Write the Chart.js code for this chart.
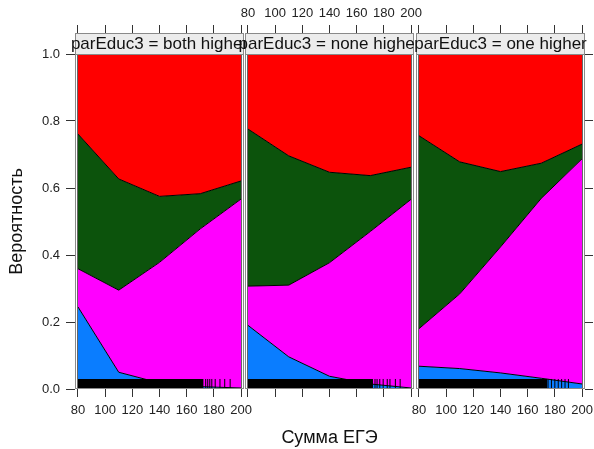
<!DOCTYPE html>
<html>
<head>
<meta charset="utf-8">
<script src="https://cdn.jsdelivr.net/npm/chart.js@4.4.1/dist/chart.umd.min.js"></script>
<style>
body { margin: 0; background: #fff; }
#wrap { position: relative; width: 594px; height: 449px; }
#wrap canvas { position: absolute; left: 0; top: 0; }
</style>
</head>
<body>
<div id="wrap">
<canvas id="p1" width="594" height="449"></canvas>
<canvas id="p2" width="594" height="449"></canvas>
<canvas id="p3" width="594" height="449"></canvas>
</div>
<script>
// x positions of the fitted curve (sum of exam scores)
const scores = [80, 110, 140, 170, 200];
const xTicks = [80, 100, 120, 140, 160, 180, 200];
const yTicks = [0, 0.2, 0.4, 0.6, 0.8, 1.0];
const stripLabels = ['parEduc3 = both higher', 'parEduc3 = none higher', 'parEduc3 = one higher'];
const levelNames = ['level 1', 'level 2', 'level 3', 'level 4'];

// probabilities per outcome level, bottom to top
const lvl1Both = [0.245, 0.050, 0.018, 0.007, 0.003];
const lvl2Both = [0.114, 0.245, 0.360, 0.471, 0.564];
const lvl3Both = [0.402, 0.332, 0.197, 0.105, 0.054];
const lvl4Both = [0.239, 0.373, 0.425, 0.417, 0.379];

const lvl1None = [0.190, 0.096, 0.038, 0.015, 0.003];
const lvl2None = [0.117, 0.214, 0.339, 0.455, 0.563];
const lvl3None = [0.469, 0.386, 0.270, 0.167, 0.096];
const lvl4None = [0.224, 0.304, 0.353, 0.363, 0.338];

const lvl1One = [0.068, 0.061, 0.048, 0.032, 0.015];
const lvl2One = [0.112, 0.223, 0.376, 0.537, 0.672];
const lvl3One = [0.576, 0.394, 0.225, 0.105, 0.044];
const lvl4One = [0.244, 0.322, 0.351, 0.326, 0.269];

// rug: scores are dense from 80 up to rugDenseEnd, then single ticks
const rugDenseEnd = [172.5, 172, 174.5];
const rugBoth = [174, 175.5, 177, 178.5, 181, 184.5, 188, 192];
const rugNone = [173.5, 175, 177, 179.5, 182.5, 184.5, 188.5, 192];
const rugOne = [175, 177.5, 180, 182.5, 185, 187.5, 190];

const layerColors = ['#0a7dff', '#ff00ff', '#0c530c', '#ff0000'];
const frameL = [75, 245, 416];
const frameR = [244, 414, 585];
const xMin = 77.8, xMax = 202.2;
const rugH = 0.03;

Chart.defaults.font.family = '"Liberation Sans", Arial, sans-serif';

// lattice-style strip above each panel + grey panel frame
const stripPlugin = {
	id: 'strip',
	afterDraw(chart, args, opts) {
		const ctx = chart.ctx, a = chart.chartArea;
		ctx.save();
		ctx.fillStyle = '#ececec';
		ctx.fillRect(a.left, 33, a.right - a.left, a.top - 33);
		ctx.strokeStyle = '#8a8a8a';
		ctx.lineWidth = 1;
		ctx.strokeRect(a.left + 0.5, 33.5, a.right - a.left - 1, a.top - 33);
		ctx.strokeRect(a.left + 0.5, a.top + 0.5, a.right - a.left - 1, a.bottom - a.top - 1);
		ctx.fillStyle = '#111';
		ctx.font = '17px "Liberation Sans", Arial, sans-serif';
		ctx.textAlign = 'center';
		ctx.textBaseline = 'middle';
		ctx.fillText(opts.text, (a.left + a.right) / 2, (33 + a.top) / 2 + 1);
		ctx.restore();
	}
};

function makePanel(id, k, layers, rug) {
	var first = k === 0, mid = k === 1, last = k === 2;
	var sets = layers.map(function(vals, j) {
		return {
			label: levelNames[j],
			data: scores.map(function(s, i) { return {x: s, y: vals[i]}; }),
			backgroundColor: layerColors[j],
			borderColor: '#000',
			borderWidth: 1,
			fill: j === 0 ? 'origin' : '-1',
			pointRadius: 0,
			tension: 0,
			yAxisID: 'y'
		};
	});
	sets.push({
		label: 'rug dense',
		data: [{x: scores[0], y: rugH}, {x: rugDenseEnd[k], y: rugH}],
		backgroundColor: '#000',
		borderWidth: 0,
		fill: 'origin',
		pointRadius: 0,
		yAxisID: 'yRug',
		order: -1
	});
	sets.push({
		label: 'rug',
		data: rug.map(function(v) { return {x: v, y: rugH / 2}; }),
		showLine: false,
		pointStyle: 'line',
		rotation: 90,
		pointRadius: 5,
		pointBorderColor: '#000',
		pointBorderWidth: 1,
		yAxisID: 'yRug',
		order: -1
	});

	var setXTicks = function(s) { s.ticks = xTicks.map(function(v) { return {value: v}; }); };
	var setYTicks = function(s) { s.ticks = yTicks.map(function(v) { return {value: v}; }); };
	// fixed axis sizes (only for shown axes)
	var fixW = function(w) {
		return function(s) { if (s.options.display) { s.width = w; } s.paddingTop = 0; s.paddingBottom = 0; };
	};
	var fixH = function(h) {
		return function(s) { if (s.options.display) { s.height = h; } s.paddingLeft = 0; s.paddingRight = 0; };
	};

	new Chart(document.getElementById(id), {
		type: 'line',
		data: {datasets: sets},
		options: {
			responsive: false,
			animation: false,
			events: [],
			layout: {padding: {left: first ? 0 : frameL[k], right: last ? 0 : 594 - frameR[k], top: 0, bottom: 0}},
			plugins: {
				legend: {display: false},
				tooltip: {enabled: false},
				strip: {text: stripLabels[k]}
			},
			scales: {
				x: {
					type: 'linear', position: 'bottom', min: xMin, max: xMax,
					afterBuildTicks: setXTicks,
					afterFit: fixH(60),
					border: {display: false},
					grid: {drawOnChartArea: false, tickLength: 8, color: '#333'},
					ticks: {display: !mid, padding: 6, color: '#222', font: {size: 13}, maxRotation: 0, autoSkip: false},
					title: {display: mid, text: 'Сумма ЕГЭ', color: '#111', font: {size: 18}, padding: {top: 0, bottom: 0}}
				},
				xTop: {
					type: 'linear', position: 'top', min: xMin, max: xMax,
					afterBuildTicks: setXTicks,
					afterFit: fixH(54),
					border: {display: false},
					grid: {
						z: 1, drawOnChartArea: true, tickLength: 29, tickColor: '#333',
						color: function(c) {
							return (c.tick && (c.tick.value === 80 || c.tick.value === 200)) ? '#666' : 'rgba(0,0,0,0)';
						}
					},
					ticks: {display: mid, padding: 4, color: '#222', font: {size: 13}, maxRotation: 0, autoSkip: false}
				},
				y: {
					display: first, position: 'left', stacked: true, min: 0, max: 1,
					afterBuildTicks: setYTicks,
					afterFit: fixW(75),
					border: {display: false},
					grid: {drawOnChartArea: false, tickLength: 9, color: '#333'},
					ticks: {padding: 6, color: '#222', font: {size: 13}, callback: function(v) { return v.toFixed(1); }},
					title: {display: true, text: 'Вероятность', color: '#111', font: {size: 18}, padding: {top: 6, bottom: 0}}
				},
				yR: {
					display: last, position: 'right', min: 0, max: 1,
					afterBuildTicks: setYTicks,
					afterFit: fixW(9),
					border: {display: false},
					grid: {drawOnChartArea: false, tickLength: 8, color: '#333'},
					ticks: {display: false}
				},
				yRug: {display: false, min: 0, max: 1}
			}
		},
		plugins: [stripPlugin]
	});
}

makePanel('p1', 0, [lvl1Both, lvl2Both, lvl3Both, lvl4Both], rugBoth);
makePanel('p2', 1, [lvl1None, lvl2None, lvl3None, lvl4None], rugNone);
makePanel('p3', 2, [lvl1One, lvl2One, lvl3One, lvl4One], rugOne);
</script>
</body>
</html>
